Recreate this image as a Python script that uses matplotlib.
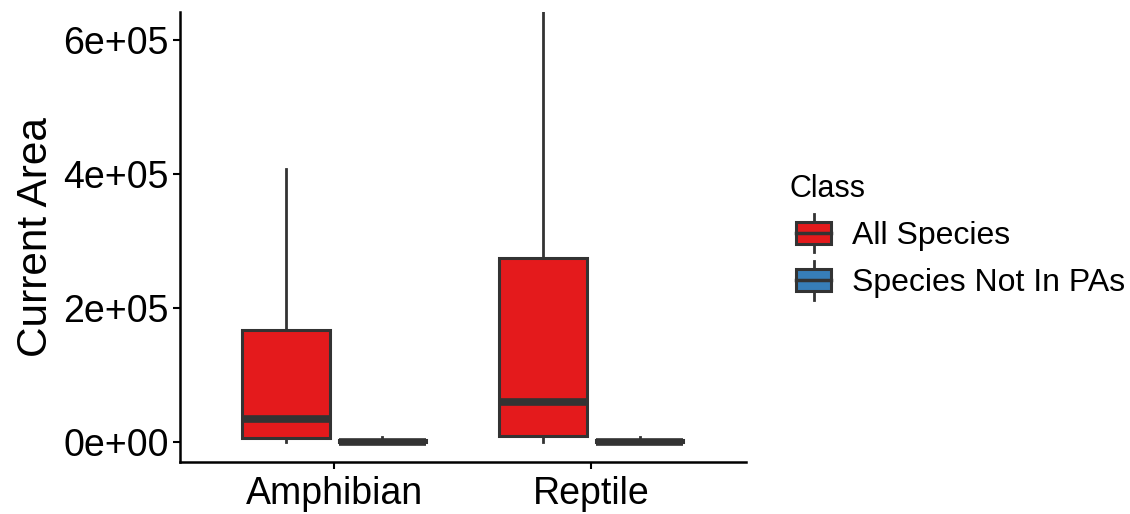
import matplotlib
matplotlib.use("Agg")
import matplotlib.pyplot as plt
from matplotlib.legend_handler import HandlerBase
from matplotlib.patches import Rectangle, Patch
from matplotlib.lines import Line2D

plt.rcParams['font.family'] = ['Liberation Sans', 'DejaVu Sans']

# data (box stats per category)
categories = ['Amphibian', 'Reptile']
classes = ['All Species', 'Species Not In PAs']
colors = ['#E41A1C', '#377EB8']

whislo = {'All Species': [0, 0], 'Species Not In PAs': [0, 0]}
q1 = {'All Species': [6000, 9000], 'Species Not In PAs': [0, 0]}
med = {'All Species': [34000, 60000], 'Species Not In PAs': [600, 600]}
q3 = {'All Species': [167000, 275000], 'Species Not In PAs': [2500, 2500]}
whishi = {'All Species': [407000, 660000], 'Species Not In PAs': [7000, 7000]}

edge = '#333333'

fig = plt.figure(figsize=(11.3, 5.14), dpi=100)
ax = fig.add_axes([0.159, 0.101, 0.501, 0.876])

offsets = [-0.1875, 0.1875]
for k, cls in enumerate(classes):
    stats = []
    for i, cat in enumerate(categories):
        stats.append(dict(whislo=whislo[cls][i], q1=q1[cls][i], med=med[cls][i],
                          q3=q3[cls][i], whishi=whishi[cls][i], fliers=[]))
    pos = [i + 1 + offsets[k] for i in range(len(categories))]
    ax.bxp(stats, positions=pos, widths=0.34, patch_artist=True, showcaps=False,
           boxprops=dict(facecolor=colors[k], edgecolor=edge, linewidth=2.2),
           medianprops=dict(color=edge, linewidth=5.5, solid_capstyle='butt'),
           whiskerprops=dict(color=edge, linewidth=2))

ax.set_xlim(0.4, 2.6)
ax.set_ylim(-30000, 642000)
ax.set_xticks([1, 2])
ax.set_xticklabels(categories)
ax.set_yticks([0, 200000, 400000, 600000])
ax.set_yticklabels(['0e+00', '2e+05', '4e+05', '6e+05'])
ax.tick_params(labelsize=27, colors='black', length=5, width=1.5, pad=3)
ax.tick_params(axis='x', pad=5)
ax.set_ylabel('Current Area', fontsize=30.5, labelpad=5)
for s in ['top', 'right']:
    ax.spines[s].set_visible(False)
for s in ['left', 'bottom']:
    ax.spines[s].set_linewidth(1.8)


class BoxHandler(HandlerBase):
    def create_artists(self, legend, orig_handle, xdescent, ydescent, width, height, fontsize, trans):
        x0, y0 = -xdescent, -ydescent
        bw = width * 0.85
        bx = x0 + width - bw
        bh = height * 0.6
        by = y0 + (height - bh) / 2
        cx = bx + bw / 2
        wl = Line2D([cx, cx], [y0 - 0.02 * height, y0 + 1.02 * height], color=edge,
                    lw=2, transform=trans)
        r = Rectangle((bx, by), bw, bh, facecolor=orig_handle.get_facecolor(),
                      edgecolor=edge, lw=2.2, transform=trans)
        m = Line2D([bx, bx + bw], [y0 + height / 2] * 2, color=edge, lw=2.5,
                   transform=trans)
        return [wl, r, m]


handles = [Patch(facecolor=c) for c in colors]
leg = fig.legend(handles, classes, title='Class', loc='center left',
                 bbox_to_anchor=(0.699, 0.54), frameon=False, fontsize=23,
                 title_fontsize=22, handler_map={Patch: BoxHandler()},
                 handlelength=1.3, handleheight=1.4, labelspacing=0.33,
                 handletextpad=0.65, borderpad=0, borderaxespad=0)
leg._legend_box.align = 'left'

fig.savefig('out.png', dpi=100)
